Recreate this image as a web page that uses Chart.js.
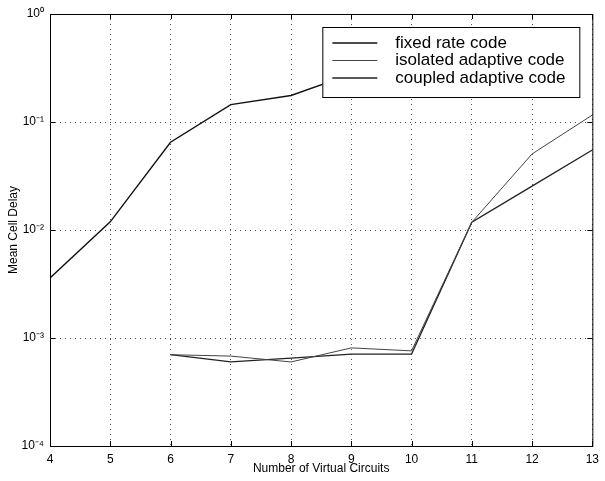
<!DOCTYPE html>
<html lang="en">
<head>
<meta charset="UTF-8">
<title>Mean Cell Delay</title>
<script src="https://cdn.jsdelivr.net/npm/chart.js"></script>
<style>
  body { margin: 0; background: #fff; }
  #wrap { width: 605px; height: 481px; }
</style>
</head>
<body>
<div id="wrap"><canvas id="delayChart"></canvas></div>
<script>
// data
const fixedX = [4, 5, 6, 7, 8, 9];
const fixedRate = [0.0036, 0.0119, 0.065, 0.145, 0.176, 0.278];

const adaptiveX = [6, 7, 8, 9, 10, 11, 12, 13];
const isolatedAdaptive = [0.00070, 0.00068, 0.00060, 0.00081, 0.00076, 0.0118, 0.0506, 0.116];
const coupledAdaptive = [0.00070, 0.00060, 0.00065, 0.00071, 0.00071, 0.0118, 0.0255, 0.055];

const seriesNames = ['fixed rate code', 'isolated adaptive code', 'coupled adaptive code'];
const xTicks = [4, 5, 6, 7, 8, 9, 10, 11, 12, 13];
const yTicks = [1e-4, 1e-3, 1e-2, 1e-1, 1];
const yTickLabels = ['10\u207B\u2074', '10\u207B\u00B3', '10\u207B\u00B2', '10\u207B\u00B9', '10\u2070'];

const lineColors = ['#111', '#444', '#222'];
const lineWidths = [1.4, 1, 1.3];
const fontFamily = '"Liberation Sans", Arial, sans-serif';

function pts(xs, ys) {
    return xs.map((x, i) => ({ x: x, y: ys[i] }));
}

// box, inward ticks and the in-plot legend
const framePlugin = {
    id: 'frame',
    afterDatasetsDraw(chart) {
        const ctx = chart.ctx;
        const a = chart.chartArea;
        const sx = chart.scales.x, sy = chart.scales.y;
        ctx.save();
        ctx.strokeStyle = '#000';
        ctx.lineWidth = 1;
        ctx.setLineDash([]);
        ctx.strokeRect(a.left + 0.5, a.top + 0.5, a.right - a.left, a.bottom - a.top);
        ctx.beginPath();
        xTicks.forEach(v => {
            const p = Math.round(sx.getPixelForValue(v)) + 0.5;
            ctx.moveTo(p, a.bottom); ctx.lineTo(p, a.bottom - 5);
            ctx.moveTo(p, a.top); ctx.lineTo(p, a.top + 5);
        });
        yTicks.forEach(v => {
            const p = Math.round(sy.getPixelForValue(v)) + 0.5;
            ctx.moveTo(a.left, p); ctx.lineTo(a.left + 5, p);
            ctx.moveTo(a.right, p); ctx.lineTo(a.right - 5, p);
        });
        ctx.stroke();

        // legend
        const lw = 257, lh = 70;
        const lx = a.right - 13 - lw, ly = a.top + 13;
        ctx.fillStyle = '#fff';
        ctx.fillRect(lx, ly, lw, lh);
        ctx.strokeRect(lx + 0.5, ly + 0.5, lw, lh);
        ctx.font = '17px ' + fontFamily;
        ctx.textBaseline = 'middle';
        seriesNames.forEach((name, i) => {
            const yy = ly + 16 + i * 17.5;
            ctx.strokeStyle = lineColors[i];
            ctx.lineWidth = lineWidths[i];
            ctx.beginPath();
            ctx.moveTo(lx + 10, yy); ctx.lineTo(lx + 55, yy);
            ctx.stroke();
            ctx.fillStyle = '#000';
            ctx.fillText(name, lx + 73, yy);
        });
        ctx.restore();
    }
};

const ctx = document.getElementById('delayChart').getContext('2d');
new Chart(ctx, {
    type: 'line',
    data: {
        datasets: [
            { label: seriesNames[0], data: pts(fixedX, fixedRate), borderColor: lineColors[0], borderWidth: lineWidths[0] },
            { label: seriesNames[1], data: pts(adaptiveX, isolatedAdaptive), borderColor: lineColors[1], borderWidth: lineWidths[1] },
            { label: seriesNames[2], data: pts(adaptiveX, coupledAdaptive), borderColor: lineColors[2], borderWidth: lineWidths[2] }
        ]
    },
    options: {
        responsive: true,
        maintainAspectRatio: false,
        animation: false,
        layout: { padding: { left: 0, right: 10, top: 14, bottom: 0 } },
        elements: { point: { radius: 0 }, line: { tension: 0, fill: false } },
        plugins: { legend: { display: false }, tooltip: { enabled: false } },
        scales: {
            x: {
                type: 'linear',
                min: 4,
                max: 13,
                afterBuildTicks: s => { s.ticks = xTicks.map(v => ({ value: v })); },
                afterFit: s => { s.height = 35; },
                ticks: { color: '#000', padding: 6, font: { family: fontFamily, size: 12 }, maxRotation: 0 },
                grid: { color: '#555', lineWidth: 1, drawTicks: false },
                border: { display: false, dash: [1, 4] },
                title: { display: true, text: 'Number of Virtual Circuits', color: '#000', font: { family: fontFamily, size: 12 }, padding: { top: 0, bottom: 5 } }
            },
            y: {
                type: 'logarithmic',
                min: 1e-4,
                max: 1,
                afterBuildTicks: s => { s.ticks = yTicks.map(v => ({ value: v })); },
                afterFit: s => { s.width = 50; },
                ticks: {
                    color: '#000', padding: 6, font: { family: fontFamily, size: 12 },
                    callback: (v) => { const i = yTicks.indexOf(v); return i >= 0 ? yTickLabels[i] : ''; }
                },
                grid: { color: '#555', lineWidth: 1, drawTicks: false },
                border: { display: false, dash: [1, 4] },
                title: { display: true, text: 'Mean Cell Delay', color: '#000', font: { family: fontFamily, size: 12 }, padding: { top: 6, bottom: 0 } }
            }
        }
    },
    plugins: [framePlugin]
});
</script>
</body>
</html>
